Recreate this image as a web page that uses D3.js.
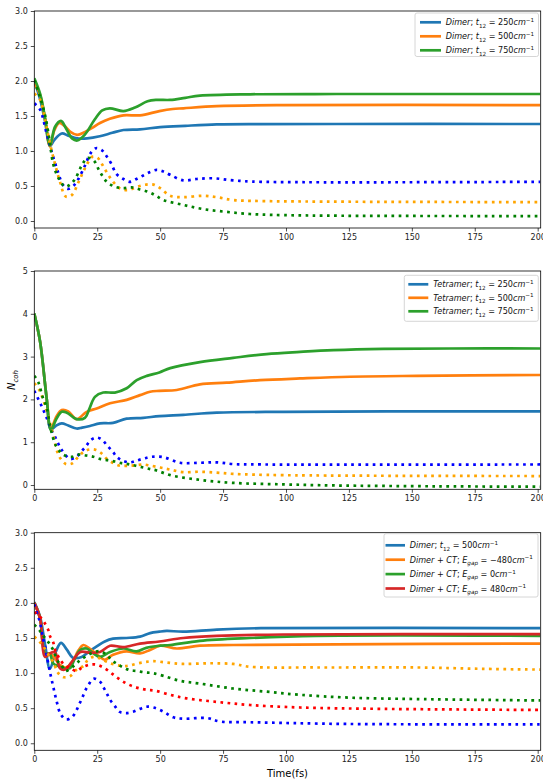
<!DOCTYPE html>
<html>
<head>
<meta charset="utf-8">
<script src="https://cdn.jsdelivr.net/npm/d3@7"></script>
<style>
body { margin: 0; background: #fff; }
svg { display: block; font-family: 'DejaVu Sans', sans-serif; }
</style>
</head>
<body>
<div class="chart"></div>
<script>
// time axis ticks (fs)
let X_TICKS = [0, 25, 50, 75, 100, 125, 150, 175, 200];
let Y_TICKS_A = [0, 0.5, 1.0, 1.5, 2.0, 2.5, 3.0];
let Y_TICKS_B = [0, 1, 2, 3, 4, 5];

// panel 1 : dimer, [t, N]
let dimer250 = [[0,2.0],[2.3,1.74],[4.3,1.42],[6.2,1.07],[8,1.16],[10.9,1.25],[13.5,1.22],[17,1.18],[21,1.18],[26,1.21],[31,1.26],[35.4,1.30],[42,1.31],[50,1.34],[60,1.36],[72.5,1.38],[90,1.385],[120,1.386],[201,1.386]];
let dimer500 = [[0,1.97],[2.3,1.8],[4.3,1.45],[6.2,1.07],[8,1.3],[9.9,1.40],[12,1.36],[14.5,1.27],[17.1,1.23],[20,1.27],[23,1.33],[26.1,1.40],[30,1.46],[35.4,1.51],[42,1.51],[49.7,1.57],[55,1.60],[59.2,1.61],[72.5,1.64],[99,1.655],[201,1.655]];
let dimer750 = [[0,2.04],[2.3,1.82],[4.3,1.47],[6.2,1.08],[8.3,1.35],[10.6,1.43],[12.5,1.33],[15,1.18],[17.1,1.15],[20,1.23],[24,1.45],[27,1.58],[30,1.61],[35.4,1.57],[40,1.62],[45,1.71],[48.6,1.73],[54,1.73],[60,1.76],[65.8,1.79],[85.7,1.81],[120,1.814],[201,1.814]];
let dimer250dot = [[0,1.68],[2.3,1.59],[4.9,1.25],[6.9,0.99],[9.5,0.69],[11.5,0.51],[13.5,0.46],[15.5,0.5],[17.5,0.60],[20.1,0.79],[22.4,0.97],[24.5,1.04],[26.9,1.01],[28.8,0.92],[30.4,0.83],[32.7,0.67],[35.4,0.60],[38,0.56],[40.6,0.60],[43.3,0.65],[46,0.70],[48.6,0.73],[51,0.71],[54,0.66],[59.2,0.58],[64.5,0.60],[71.1,0.61],[79,0.58],[90,0.56],[201,0.56]];
let dimer500dot = [[0,1.82],[2.3,1.73],[4.3,1.45],[6.2,1.11],[8.2,0.82],[10.2,0.56],[12.5,0.35],[14.9,0.37],[17.5,0.55],[20.1,0.75],[23.2,0.92],[25.5,0.89],[27.1,0.80],[30.1,0.62],[33.8,0.47],[36.6,0.44],[39,0.46],[41.9,0.50],[44.5,0.52],[47.4,0.52],[50,0.47],[54,0.36],[59.2,0.34],[67.1,0.36],[72.5,0.34],[79,0.30],[90,0.285],[201,0.27]];
let dimer750dot = [[0,2.01],[2,1.8],[4.3,1.51],[6,1.16],[7.5,0.82],[9.5,0.62],[12.2,0.49],[14.2,0.52],[16.2,0.60],[18.8,0.79],[21.1,0.90],[23.5,0.87],[26.1,0.70],[28.8,0.56],[32,0.49],[35.4,0.47],[38.6,0.48],[42,0.45],[45.7,0.41],[48.4,0.36],[51.3,0.30],[59.2,0.23],[67.1,0.17],[76.4,0.13],[85.7,0.10],[105.6,0.08],[201,0.071]];

// panel 2 : tetramer
let tetra250 = [[0,4.0],[2.3,3.35],[4.9,2.03],[6.6,1.30],[8.5,1.38],[10.9,1.44],[13.5,1.39],[16.8,1.32],[19,1.34],[22.1,1.38],[26.1,1.44],[31.3,1.45],[36.7,1.55],[43.3,1.57],[49.7,1.61],[59.2,1.64],[72.5,1.69],[99,1.71],[140,1.72],[201,1.72]];
let tetra500 = [[0,4.0],[2.3,3.35],[4.9,2.03],[6.6,1.32],[8.8,1.6],[10.9,1.75],[13.5,1.72],[16.8,1.54],[20.8,1.71],[24.8,1.79],[30.1,1.91],[36.7,1.99],[42,2.10],[46,2.18],[49.7,2.20],[56.6,2.22],[65.8,2.35],[76.4,2.39],[89.7,2.45],[105.6,2.49],[125.4,2.53],[152,2.55],[201,2.57]];
let tetra750 = [[0,4.01],[2.3,3.35],[4.9,2.03],[6.6,1.29],[8.8,1.55],[10.9,1.71],[12.9,1.69],[16.8,1.54],[20.1,1.57],[22,1.8],[24.1,2.06],[27.4,2.16],[32,2.16],[36.7,2.26],[40.7,2.45],[44.7,2.55],[49.7,2.63],[54,2.73],[65.8,2.87],[79,2.97],[92.3,3.06],[105.6,3.11],[118.8,3.15],[138.7,3.18],[165,3.19],[201,3.19]];
let tetra250dot = [[0,2.2],[2.7,1.87],[4.9,1.57],[6.9,1.28],[8.2,1.13],[9.5,0.97],[10.9,0.82],[14.2,0.61],[16.8,0.66],[18.8,0.79],[20.6,0.91],[22.4,1.05],[24.8,1.11],[27.1,1.05],[29.1,0.91],[31.2,0.78],[32.7,0.66],[35.1,0.57],[38,0.53],[40.6,0.57],[43.6,0.62],[46.6,0.66],[51.3,0.65],[57.9,0.52],[65.8,0.52],[72.5,0.53],[79,0.49],[90,0.48],[201,0.48]];
let tetra500dot = [[0,2.38],[2,2.22],[4,1.91],[6,1.50],[7.5,1.17],[9.1,0.78],[10.4,0.62],[12.5,0.49],[14.9,0.50],[17.5,0.66],[19.7,0.78],[21.9,0.83],[24.5,0.82],[26.9,0.73],[28.8,0.61],[31.5,0.51],[34.1,0.45],[37.2,0.45],[40,0.46],[43,0.48],[45.5,0.46],[50,0.41],[54,0.36],[59.2,0.30],[65.8,0.31],[72.5,0.29],[79,0.26],[99,0.23],[201,0.21]];
let tetra750dot = [[0,2.55],[1.6,2.40],[3.3,2.06],[4.9,1.81],[6.2,1.40],[7.5,1.09],[8.6,0.92],[10.5,0.76],[12.2,0.69],[14.9,0.66],[17.5,0.71],[20.6,0.69],[23.5,0.66],[26.1,0.61],[29.1,0.58],[32,0.55],[34.7,0.51],[37.2,0.49],[40.3,0.45],[43.3,0.41],[46.2,0.37],[48.6,0.34],[54,0.23],[65.8,0.12],[79,0.05],[99,0.015],[118.8,-0.01],[160,-0.03],[201,-0.04]];

// panel 3 : dimer + CT state
let ctDimer = [[0,2.01],[2.3,1.8],[4.3,1.4],[6.2,1.06],[8.5,1.3],[10.6,1.43],[13,1.33],[15.3,1.22],[18.8,1.23],[21.5,1.3],[24.8,1.38],[28,1.45],[31.3,1.49],[36.6,1.50],[42,1.52],[46,1.57],[49.7,1.59],[52.6,1.60],[59.2,1.59],[72.5,1.62],[90,1.64],[201,1.64]];
let ctM480 = [[0,2.0],[2.3,1.78],[4.3,1.28],[6.2,1.28],[8,1.22],[10,1.12],[12.5,1.08],[15,1.15],[17.5,1.32],[19.5,1.40],[22,1.35],[26.1,1.23],[28,1.19],[31.3,1.26],[36.6,1.31],[42,1.28],[46,1.33],[50,1.39],[56.6,1.35],[65.8,1.39],[79,1.40],[120,1.41],[201,1.42]];
let ct0 = [[0,2.0],[2.3,1.78],[4.3,1.28],[6.2,1.27],[7.5,1.14],[9.5,1.1],[11.5,1.07],[14.2,1.07],[16,1.2],[18.3,1.33],[20.8,1.35],[23.5,1.28],[26.1,1.23],[30.1,1.30],[35.4,1.35],[40.6,1.31],[44.5,1.36],[50,1.39],[54,1.40],[65.8,1.46],[85.7,1.50],[112,1.53],[201,1.53]];
let ctP480 = [[0,2.0],[2.3,1.78],[4.3,1.23],[6.2,1.28],[8.2,1.30],[10.2,1.07],[12.2,1.05],[14.9,1.16],[18.3,1.30],[22.2,1.29],[26.1,1.30],[30.1,1.39],[35.4,1.37],[42,1.42],[49.7,1.45],[59.2,1.50],[72.5,1.53],[99,1.55],[201,1.555]];
let ctDimerDot = [[0,1.98],[1.3,1.83],[2.3,1.72],[3.3,1.52],[4.3,1.38],[4.9,1.26],[6.2,1.02],[7.5,0.81],[8.8,0.61],[10.4,0.42],[12.5,0.34],[14.9,0.37],[16.6,0.46],[17.9,0.56],[19.1,0.65],[20.1,0.74],[21.5,0.83],[23.5,0.92],[25.8,0.89],[27.6,0.79],[28.8,0.71],[30.1,0.62],[32,0.53],[33.8,0.45],[36.4,0.43],[39.3,0.45],[42,0.49],[44.5,0.52],[47.4,0.51],[51.3,0.45],[55.2,0.37],[59.2,0.35],[68.5,0.36],[73.8,0.31],[85.7,0.30],[125,0.275],[201,0.27]];
let ctM480dot = [[0,1.52],[2,1.45],[3.6,1.38],[5.6,1.26],[7.5,1.16],[9.5,1.0],[11.9,0.94],[14.4,0.96],[17.1,1.06],[19.5,1.10],[21.1,1.18],[23.5,1.23],[26.1,1.21],[28.8,1.16],[32,1.12],[35.4,1.10],[38,1.11],[41.3,1.14],[44.5,1.16],[47.3,1.17],[52.6,1.15],[59.2,1.13],[69.8,1.14],[79,1.13],[85.7,1.09],[112,1.08],[152,1.08],[178.4,1.06],[201,1.05]];
let ct0dot = [[0,1.69],[2,1.61],[3.6,1.53],[5.6,1.44],[7.5,1.33],[9.5,1.16],[10.9,1.11],[12.2,1.03],[14.9,1.08],[16.8,1.14],[18.8,1.20],[21.5,1.26],[23.7,1.30],[26.1,1.31],[28.5,1.27],[30.6,1.19],[32.9,1.13],[35.4,1.08],[38,1.04],[40.6,1.03],[43.9,1.01],[47,1.0],[51.3,0.96],[57.9,0.89],[65.8,0.85],[79,0.78],[92.3,0.735],[105.6,0.69],[125.4,0.65],[152,0.63],[201,0.61]];
let ctP480dot = [[0,1.87],[2.3,1.80],[4,1.72],[5.6,1.61],[6.2,1.53],[7.5,1.44],[8.2,1.34],[9.8,1.22],[11.8,1.12],[14.2,1.07],[16.8,1.03],[19,1.08],[21.9,1.12],[24.8,1.12],[27.4,1.08],[29.9,1.02],[32,0.96],[34.4,0.90],[36.7,0.85],[39.3,0.81],[42,0.78],[44.9,0.76],[47.9,0.75],[54,0.69],[60.5,0.64],[72.5,0.59],[85.7,0.545],[105.6,0.51],[138.7,0.49],[201,0.475]];

// legend labels (mathtext style: _{} sub, ^{} sup)
let LEGEND_1 = ['Dimer; t_{12} = 250cm^{\u22121}', 'Dimer; t_{12} = 500cm^{\u22121}', 'Dimer; t_{12} = 750cm^{\u22121}'];
let LEGEND_2 = ['Tetramer; t_{12} = 250cm^{\u22121}', 'Tetramer; t_{12} = 500cm^{\u22121}', 'Tetramer; t_{12} = 750cm^{\u22121}'];
let LEGEND_3 = ['Dimer; t_{12} = 500cm^{\u22121}', 'Dimer + CT; E_{gap} = \u2212480cm^{\u22121}', 'Dimer + CT; E_{gap} = 0cm^{\u22121}', 'Dimer + CT; E_{gap} = 480cm^{\u22121}'];

let TAB = ['#1f77b4', '#ff7f0e', '#2ca02c', '#d62728'];
let DOT = ['blue', 'orange', 'green', 'red'];

let width = 543, height = 780;
let lw = 2.7;
let legFont = 8.1;

let svg = d3.select('.chart')
	.append('svg')
	.attr('width', width)
	.attr('height', height);

let xScale = d3.scaleLinear()
	.domain([0, 201.2])
	.range([34.3, 540.7]);

// legend layout: box + first row centre + row step + handle + text start
let panels = [
	{top: 11, bottom: 228, ymax: 3, ticks: Y_TICKS_A, fmt: d3.format('.1f'),
		solid: [dimer250, dimer500, dimer750], dotted: [dimer250dot, dimer500dot, dimer750dot],
		labels: LEGEND_1, leg: {x: 415, y: 13, w: 123.5, h: 43.5, row0: 22.3, rowH: 14, hx: 420, hl: 21, tx: 445.7}},
	{top: 271, bottom: 489.3, ymax: 5, ticks: Y_TICKS_B, fmt: d3.format('d'),
		solid: [tetra250, tetra500, tetra750], dotted: [tetra250dot, tetra500dot, tetra750dot],
		labels: LEGEND_2, leg: {x: 404.3, y: 275.3, w: 134, h: 46, row0: 284.3, rowH: 13.5, hx: 408.3, hl: 20, tx: 433.3}},
	{top: 532.7, bottom: 750.3, ymax: 3, ticks: Y_TICKS_A, fmt: d3.format('.1f'),
		solid: [ctDimer, ctM480, ct0, ctP480], dotted: [ctDimerDot, ctM480dot, ct0dot, ctP480dot],
		labels: LEGEND_3, leg: {x: 384, y: 533.7, w: 154, h: 63.3, row0: 545.3, rowH: 14.4, hx: 385.5, hl: 19.5, tx: 409.7}}
];

// write a mathtext-like label into a text element
function mathText(text, str, fs) {
	let tokens = str.match(/_\{[^}]*\}|\^\{[^}]*\}|[^_^]+/g);
	let cur = 0;
	tokens.forEach(tok => {
		let shift = 0, size = fs, body = tok;
		if (tok[0] === '_') { shift = 0.28 * fs; size = fs * 0.7; body = tok.slice(2, -1); }
		if (tok[0] === '^') { shift = -0.42 * fs; size = fs * 0.7; body = tok.slice(2, -1); }
		let runs = body.match(/[A-Za-z]+|[^A-Za-z]+/g);
		runs.forEach((r, i) => {
			text.append('tspan')
				.attr('dy', i === 0 ? shift - cur : 0)
				.style('font-size', size + 'px')
				.style('font-style', /[A-Za-z]/.test(r) ? 'italic' : 'normal')
				.style('white-space', 'pre')
				.text(r);
		});
		cur = shift;
	});
}

let line = d3.line()
	.x(d => xScale(d[0]))
	.y(d => d.y)
	.curve(d3.curveCatmullRom.alpha(0.5));

panels.forEach(p => {
	let yScale = d3.scaleLinear()
		.domain([-0.1, p.ymax])
		.range([p.bottom, p.top]);

	let g = svg.append('g');

	let clipId = 'clip' + Math.round(p.top);
	svg.append('clipPath').attr('id', clipId)
		.append('rect')
		.attr('x', xScale.range()[0]).attr('y', p.top)
		.attr('width', xScale.range()[1] - xScale.range()[0])
		.attr('height', p.bottom - p.top);

	let plot = g.append('g').attr('clip-path', 'url(#' + clipId + ')');

	p.solid.forEach((s, i) => {
		plot.append('path')
			.attr('d', line(s.map(d => Object.assign([d[0], d[1]], {y: yScale(d[1])}))))
			.style('fill', 'none')
			.style('stroke', TAB[i])
			.style('stroke-width', lw);
	});
	p.dotted.forEach((s, i) => {
		plot.append('path')
			.attr('d', line(s.map(d => Object.assign([d[0], d[1]], {y: yScale(d[1])}))))
			.style('fill', 'none')
			.style('stroke', DOT[i])
			.style('stroke-width', lw)
			.style('stroke-dasharray', lw + ',' + (lw * 1.65));
	});

	// axes
	g.append('g')
		.attr('transform', 'translate(0,' + p.bottom + ')')
		.call(d3.axisBottom(xScale).tickValues(X_TICKS).tickSize(3.5).tickPadding(3).tickSizeOuter(0))
		.call(a => a.select('.domain').remove());
	g.append('g')
		.attr('transform', 'translate(' + xScale.range()[0] + ',0)')
		.call(d3.axisLeft(yScale).tickValues(p.ticks).tickFormat(p.fmt).tickSize(3.5).tickPadding(3).tickSizeOuter(0))
		.call(a => a.select('.domain').remove());
	g.selectAll('.tick text').style('font-size', '8px').style('font-family', "'DejaVu Sans', sans-serif").style('fill', '#222');
	g.selectAll('.tick line').style('stroke', '#222').style('stroke-width', 0.8);

	g.append('rect')
		.attr('x', xScale.range()[0]).attr('y', p.top)
		.attr('width', xScale.range()[1] - xScale.range()[0])
		.attr('height', p.bottom - p.top)
		.style('fill', 'none').style('stroke', '#000').style('stroke-width', 0.8);

	// legend
	let L = p.leg;
	let leg = g.append('g');
	leg.append('rect')
		.attr('x', L.x).attr('y', L.y)
		.attr('width', L.w).attr('height', L.h)
		.attr('rx', 2)
		.style('fill', 'rgba(255,255,255,0.8)')
		.style('stroke', '#ccc').style('stroke-width', 0.8);
	p.labels.forEach((lab, i) => {
		let yy = L.row0 + i * L.rowH;
		leg.append('line')
			.attr('x1', L.hx).attr('x2', L.hx + L.hl)
			.attr('y1', yy).attr('y2', yy)
			.style('stroke', TAB[i]).style('stroke-width', lw);
		let t = leg.append('text')
			.attr('x', L.tx).attr('y', yy + 3)
			.style('font-size', legFont + 'px')
			.style('fill', '#111');
		mathText(t, lab, legFont);
		// keep the label inside its frame
		let room = L.x + L.w - 3 - L.tx;
		let len = t.node().getComputedTextLength();
		if (len > room) t.attr('textLength', room).attr('lengthAdjust', 'spacingAndGlyphs');
	});
});

// axis labels
let ylab = svg.append('text')
	.attr('transform', 'translate(15,380) rotate(-90)')
	.attr('text-anchor', 'middle')
	.style('font-size', '10px');
ylab.append('tspan').style('font-style', 'italic').text('N');
ylab.append('tspan').style('font-style', 'italic').style('font-size', '7px').attr('dy', 2.5).text('coh');

svg.append('text')
	.attr('x', 287.5).attr('y', 777)
	.attr('text-anchor', 'middle')
	.style('font-size', '10px')
	.text('Time(fs)');
</script>
</body>
</html>
